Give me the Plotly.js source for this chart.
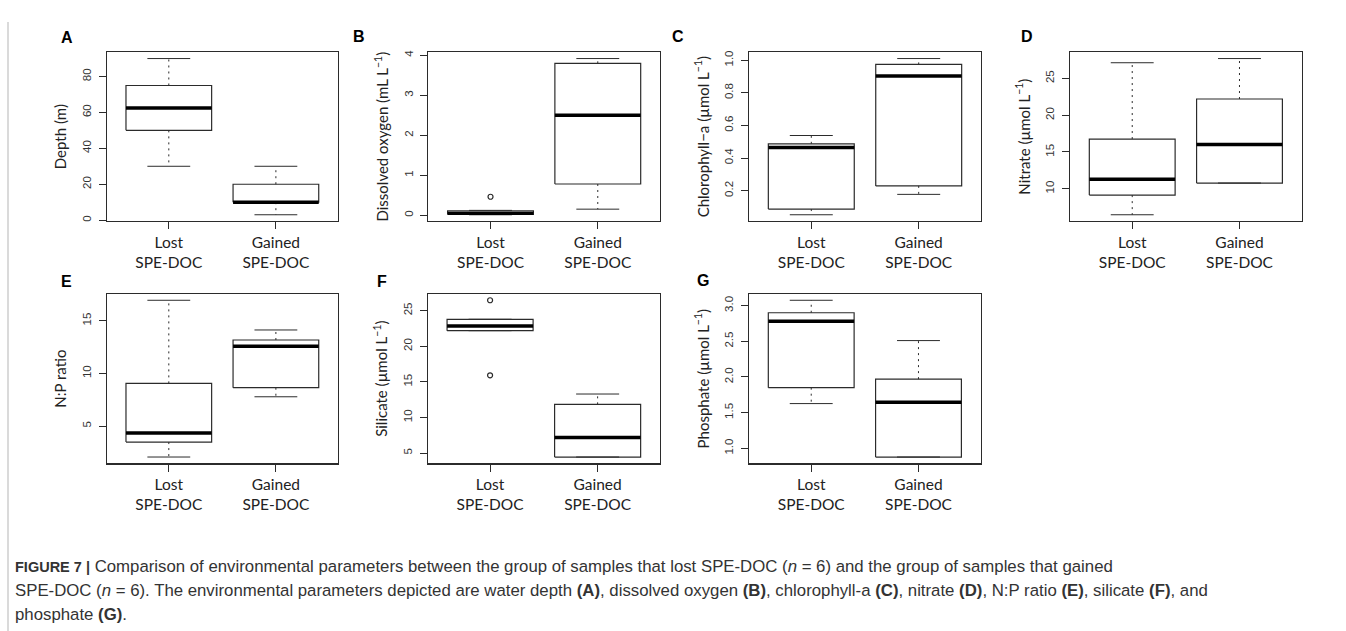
<!DOCTYPE html>
<html>
<head>
<meta charset="utf-8">
<script src="https://cdn.plot.ly/plotly-3.0.1.min.js"></script>
<style>
  html, body { margin: 0; padding: 0; background: #fff; }
  #fig { width: 1346px; height: 631px; }
</style>
</head>
<body>
<div id="fig"></div>
<script>
// Group labels on the x axis of every panel
const groups = ['Lost<br>SPE-DOC', 'Gained<br>SPE-DOC'];

// Five-number summaries per group: lower whisker, Q1, median, Q3, upper whisker
const depthLost = [30, 50, 62.5, 75, 90];
const depthGained = [3, 10, 10, 20, 30];

const oxygenLost = [0.01, 0.02, 0.05, 0.11, 0.12];
const oxygenGained = [0.15, 0.78, 2.5, 3.8, 3.92];
const oxygenOutliersLost = [0.46];

const chlaLost = [0.052, 0.087, 0.465, 0.487, 0.538];
const chlaGained = [0.177, 0.229, 0.903, 0.974, 1.01];

const nitrateLost = [6.47, 9.14, 11.28, 16.76, 27.13];
const nitrateGained = [10.78, 10.78, 16.03, 22.2, 27.7];

const npLost = [2.06, 3.48, 4.35, 9.05, 16.94];
const npGained = [7.78, 8.64, 12.57, 13.17, 14.12];

const silicateLost = [22.19, 22.19, 22.85, 23.79, 23.79];
const silicateGained = [4.44, 4.44, 7.2, 11.84, 13.29];
const silicateOutliersLost = [26.46, 15.92];

const phosphateLost = [1.627, 1.85, 2.78, 2.90, 3.075];
const phosphateGained = [0.878, 0.878, 1.646, 1.97, 2.51];

// Y tick values per panel
const depthTicks = [0, 20, 40, 60, 80];
const oxygenTicks = [0, 1, 2, 3, 4];
const chlaTicks = [0.2, 0.4, 0.6, 0.8, 1.0];
const nitrateTicks = [10, 15, 20, 25];
const npTicks = [5, 10, 15];
const silicateTicks = [5, 10, 15, 20, 25];
const phosphateTicks = [1.0, 1.5, 2.0, 2.5, 3.0];

// Y axis titles
const yTitles = [
  'Depth (m)',
  'Dissolved oxygen (mL L<sup>−1</sup>)',
  'Chlorophyll−a (µmol L<sup>−1</sup>)',
  'Nitrate (µmol L<sup>−1</sup>)',
  'N:P ratio',
  'Silicate (µmol L<sup>−1</sup>)',
  'Phosphate (µmol L<sup>−1</sup>)'
];
const letters = ['A', 'B', 'C', 'D', 'E', 'F', 'G'];

// Panel table built from the arrays above; box positions in pixels
const W = 1346, H = 631;
const panels = [
  { stats: [depthLost, depthGained], out: [[], []], ticks: depthTicks, fmt: '', px: [106.7, 338], py: [52.3, 221], lab: [66.7, 37] },
  { stats: [oxygenLost, oxygenGained], out: [oxygenOutliersLost, []], ticks: oxygenTicks, fmt: '', px: [428.3, 660], py: [52.3, 221], lab: [359, 36] },
  { stats: [chlaLost, chlaGained], out: [[], []], ticks: chlaTicks, fmt: '.1f', px: [749, 981], py: [52.3, 221], lab: [677.5, 36] },
  { stats: [nitrateLost, nitrateGained], out: [[], []], ticks: nitrateTicks, fmt: '', px: [1070, 1301.7], py: [52.3, 221], lab: [1026.5, 36] },
  { stats: [npLost, npGained], out: [[], []], ticks: npTicks, fmt: '', px: [106.7, 338], py: [294, 463.3], lab: [66.5, 281] },
  { stats: [silicateLost, silicateGained], out: [silicateOutliersLost, []], ticks: silicateTicks, fmt: '', px: [427.7, 660], py: [294, 463.3], lab: [381.7, 281] },
  { stats: [phosphateLost, phosphateGained], out: [[], []], ticks: phosphateTicks, fmt: '.1f', px: [749, 980.7], py: [294, 463.3], lab: [702.5, 280] }
];

const LINE = '#2b2b2b';
const BOXW = 0.4;    // half box width in category units
const CAPW = 0.2;    // half whisker-cap width

const traces = [];
const layout = {
  width: W, height: H,
  margin: { l: 0, r: 0, t: 0, b: 0 },
  paper_bgcolor: '#fff', plot_bgcolor: '#fff',
  showlegend: false,
  font: { family: 'Liberation Sans, Arial, sans-serif', color: '#222' },
  annotations: [],
  shapes: []
};

panels.forEach((p, k) => {
  const n = k + 1;
  const xa = 'x' + n, ya = 'y' + n;
  const boxX = [], boxY = [], medX = [], medY = [];
  const whX = [], whY = [], capX = [], capY = [];
  const outX = [], outY = [];
  let lo = Infinity, hi = -Infinity;

  p.stats.forEach((s, g) => {
    const c = g + 1;
    const [wl, q1, md, q3, wh] = s;
    boxX.push(c - BOXW, c + BOXW, c + BOXW, c - BOXW, c - BOXW, null);
    boxY.push(q1, q1, q3, q3, q1, null);
    medX.push(c - BOXW, c + BOXW, null);
    medY.push(md, md, null);
    whX.push(c, c, null, c, c, null);
    whY.push(q3, wh, null, q1, wl, null);
    capX.push(c - CAPW, c + CAPW, null, c - CAPW, c + CAPW, null);
    capY.push(wh, wh, null, wl, wl, null);
    lo = Math.min(lo, wl); hi = Math.max(hi, wh);
    p.out[g].forEach(v => {
      outX.push(c); outY.push(v);
      lo = Math.min(lo, v); hi = Math.max(hi, v);
    });
  });

  const common = { xaxis: xa, yaxis: ya, hoverinfo: 'skip', mode: 'lines' };
  traces.push(Object.assign({}, common, { x: whX, y: whY, line: { color: LINE, width: 1, dash: '2px,4px' } }));
  traces.push(Object.assign({}, common, { x: capX, y: capY, line: { color: LINE, width: 1 } }));
  traces.push(Object.assign({}, common, { x: boxX, y: boxY, line: { color: LINE, width: 1.2 } }));
  traces.push(Object.assign({}, common, { x: medX, y: medY, line: { color: '#000', width: 3.5 } }));
  if (outX.length) {
    traces.push({ xaxis: xa, yaxis: ya, hoverinfo: 'skip', mode: 'markers', x: outX, y: outY,
      marker: { symbol: 'circle-open', size: 5, color: LINE, line: { width: 1.2, color: LINE } } });
  }

  // 4% padding around the data range on y, as R's boxplot does
  const pad = (hi - lo) * 0.04;
  const suffix = n === 1 ? '' : String(n);
  layout['xaxis' + suffix] = {
    domain: [p.px[0] / W, p.px[1] / W],
    anchor: ya,
    range: [0.42, 2.58],
    tickvals: [1, 2], ticktext: groups,
    ticks: 'outside', ticklen: 7, tickwidth: 1, tickcolor: LINE,
    showline: true, mirror: true, linecolor: LINE, linewidth: 1.2,
    showgrid: false, zeroline: false, fixedrange: true,
    tickfont: { family: 'Lato, Open Sans, sans-serif', size: 15.5, color: '#222' }
  };
  layout['yaxis' + suffix] = {
    domain: [1 - p.py[1] / H, 1 - p.py[0] / H],
    anchor: xa,
    range: [lo - pad, hi + pad],
    tickvals: p.ticks, tickformat: p.fmt,
    tickangle: -90,
    ticks: 'outside', ticklen: 7, tickwidth: 1, tickcolor: LINE,
    ticklabelstandoff: 3,
    showline: true, mirror: true, linecolor: LINE, linewidth: 1.2,
    showgrid: false, zeroline: false, fixedrange: true,
    tickfont: { family: 'Liberation Sans, Arial, sans-serif', size: 11.5, color: '#333' },
    title: { text: yTitles[k], standoff: 10, font: { family: 'Lato, Open Sans, sans-serif', size: 15, color: '#222' } }
  };

  layout.annotations.push({
    text: '<b>' + letters[k] + '</b>', xref: 'paper', yref: 'paper',
    x: p.lab[0] / W, y: 1 - p.lab[1] / H, xanchor: 'center', yanchor: 'middle',
    showarrow: false, font: { family: 'Liberation Sans, Arial, sans-serif', size: 16, color: '#000' }
  });
});

// Figure caption, one annotation per line
const captionLines = [
  '<span style="font-size:14.5px"><b>FIGURE 7 |</b></span> Comparison of environmental parameters between the group of samples that lost SPE-DOC (<i>n</i> = 6) and the group of samples that gained',
  'SPE-DOC (<i>n</i> = 6). The environmental parameters depicted are water depth <b>(A)</b>, dissolved oxygen <b>(B)</b>, chlorophyll-a <b>(C)</b>, nitrate <b>(D)</b>, N:P ratio <b>(E)</b>, silicate <b>(F)</b>, and',
  'phosphate <b>(G)</b>.'
];
const captionY = [566, 590, 614];
captionLines.forEach((t, i) => {
  layout.annotations.push({
    text: t, xref: 'paper', yref: 'paper',
    x: 13 / W, y: 1 - captionY[i] / H, xanchor: 'left', yanchor: 'middle',
    showarrow: false, align: 'left',
    font: { family: 'Liberation Sans, Arial, sans-serif', size: 16.8, color: '#333' }
  });
});

// Thin frame line along the left edge of the figure
layout.shapes.push({
  type: 'line', xref: 'paper', yref: 'paper',
  x0: 8 / W, x1: 8 / W, y0: 0, y1: 1 - 22 / H,
  line: { color: '#b5b5b5', width: 1 }
});

Plotly.newPlot('fig', traces, layout, { staticPlot: true, displayModeBar: false });
</script>
</body>
</html>
